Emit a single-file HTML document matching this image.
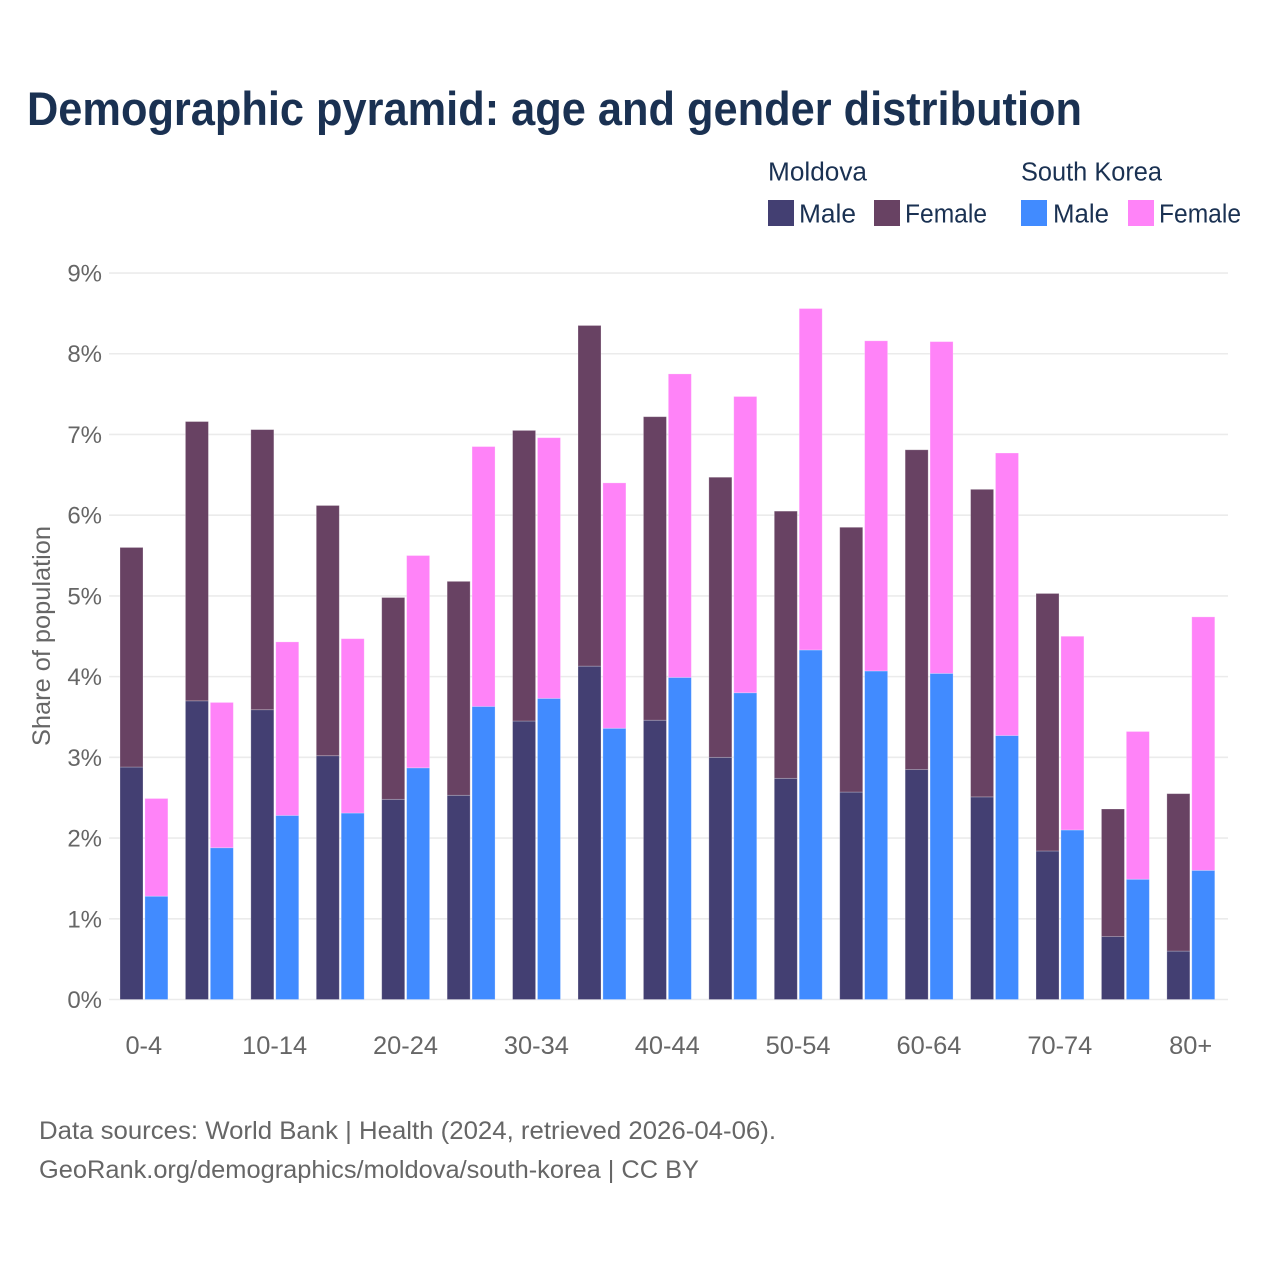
<!DOCTYPE html>
<html>
<head>
<meta charset="utf-8">
<title>Demographic pyramid</title>
<style>
html,body{margin:0;padding:0;background:#fff;width:1280px;height:1280px;overflow:hidden}
svg{display:block}
text{font-family:"Liberation Sans",sans-serif}
</style>
</head>
<body>
<svg id="chart" xmlns="http://www.w3.org/2000/svg" width="1280" height="1280" viewBox="0 0 1280 1280">
  <rect x="0" y="0" width="1280" height="1280" fill="#fff"/>
  <text x="27" y="125" font-size="47" font-weight="700" fill="#1a3152" textLength="1055" lengthAdjust="spacingAndGlyphs">Demographic pyramid: age and gender distribution</text>

  <g font-size="25.5" fill="#1a3152">
    <text x="768" y="180.5" textLength="99" lengthAdjust="spacingAndGlyphs">Moldova</text>
    <text x="1021" y="180.5" textLength="141" lengthAdjust="spacingAndGlyphs">South Korea</text>
    <rect x="768" y="200" width="26" height="26" fill="#433f72"/>
    <text x="799" y="222.5" textLength="57" lengthAdjust="spacingAndGlyphs">Male</text>
    <rect x="874" y="200" width="26" height="26" fill="#684263"/>
    <text x="905" y="222.5" textLength="82" lengthAdjust="spacingAndGlyphs">Female</text>
    <rect x="1021" y="200" width="26" height="26" fill="#418bff"/>
    <text x="1053" y="222.5" textLength="56" lengthAdjust="spacingAndGlyphs">Male</text>
    <rect x="1128" y="200" width="26" height="26" fill="#ff83f8"/>
    <text x="1159" y="222.5" textLength="82" lengthAdjust="spacingAndGlyphs">Female</text>
  </g>

  <g id="grid"></g>
  <g id="yticks"></g>
  <g id="bars"></g>
  <g id="xticks"></g>

  <text transform="translate(50,746) rotate(-90)" x="0" y="0" font-size="25" fill="#666" textLength="220" lengthAdjust="spacingAndGlyphs">Share of population</text>

  <text x="39" y="1139" font-size="25" fill="#666" textLength="737" lengthAdjust="spacingAndGlyphs">Data sources: World Bank | Health (2024, retrieved 2026-04-06).</text>
  <text x="39" y="1178" font-size="25" fill="#666" textLength="660" lengthAdjust="spacingAndGlyphs">GeoRank.org/demographics/moldova/south-korea | CC BY</text>
</svg>
<script>
const categories = ['0-4','5-9','10-14','15-19','20-24','25-29','30-34','35-39','40-44','45-49','50-54','55-59','60-64','65-69','70-74','75-79','80+'];
const visibleAgeLabels = ['0-4','10-14','20-24','30-34','40-44','50-54','60-64','70-74','80+'];
const yTickValues = [0,1,2,3,4,5,6,7,8,9];
const moldovaMale = [2.88,3.70,3.59,3.02,2.48,2.53,3.45,4.13,3.46,3.00,2.74,2.57,2.85,2.51,1.84,0.78,0.60];
const moldovaFemale = [2.72,3.46,3.47,3.10,2.50,2.65,3.60,4.22,3.76,3.47,3.31,3.28,3.96,3.81,3.19,1.58,1.95];
const koreaMale = [1.28,1.88,2.28,2.31,2.87,3.63,3.73,3.36,3.99,3.80,4.33,4.07,4.04,3.27,2.10,1.49,1.60];
const koreaFemale = [1.21,1.80,2.15,2.16,2.63,3.22,3.23,3.04,3.76,3.67,4.23,4.09,4.11,3.50,2.40,1.83,3.14];

const NS = 'http://www.w3.org/2000/svg';
const yScale = v => 999.5 - v * 80.72;
const xCenter = i => 144 + i * 65.43;
const barW = 23;

function make(tag, attrs, parent) {
  const el = document.createElementNS(NS, tag);
  for (const k in attrs) el.setAttribute(k, attrs[k]);
  parent.appendChild(el);
  return el;
}

const grid = document.getElementById('grid');
const yticks = document.getElementById('yticks');
yTickValues.forEach(v => {
  const line = make('line', {x1: 109, x2: 1228, y1: yScale(v), y2: yScale(v), stroke: '#ebebeb', 'stroke-width': 1.6}, grid);
  
  
  const t = make('text', {x: 102, y: yScale(v) + 8.5, 'text-anchor': 'end', 'font-size': 24, fill: '#666'}, yticks);
  t.textContent = v + '%';
  
  
});

const bars = document.getElementById('bars');
function drawBar(i, base, value, x, fill, name) {
  const r = make('rect', {x: x, y: yScale(base + value), width: barW, height: yScale(base) - yScale(base + value), fill: fill, stroke: '#fff', 'stroke-opacity': 0.3, 'stroke-width': 0.8}, bars);
  
  
}
categories.forEach((c, i) => {
  const xc = xCenter(i);
  drawBar(i, 0, moldovaMale[i], xc - 24, '#433f72', 'bar-moldova-male');
  drawBar(i, moldovaMale[i], moldovaFemale[i], xc - 24, '#684263', 'bar-moldova-female');
  drawBar(i, 0, koreaMale[i], xc + 0.9, '#418bff', 'bar-south-korea-male');
  drawBar(i, koreaMale[i], koreaFemale[i], xc + 0.9, '#ff83f8', 'bar-south-korea-female');
});

const xticks = document.getElementById('xticks');
visibleAgeLabels.forEach(lbl => {
  const i = categories.indexOf(lbl);
  const t = make('text', {x: xCenter(i) - 0.2, y: 1054, 'text-anchor': 'middle', 'font-size': 25.4, fill: '#666'}, xticks);
  t.textContent = lbl;
  
  
});
</script>
</body>
</html>
